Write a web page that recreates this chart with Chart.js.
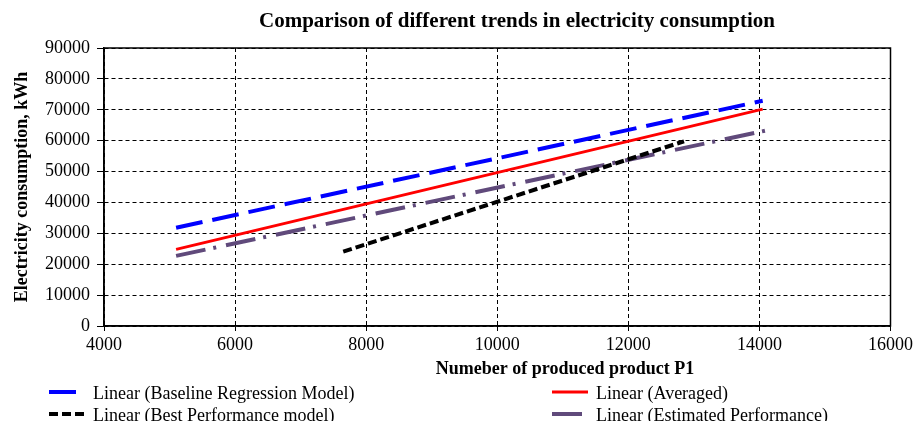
<!DOCTYPE html>
<html>
<head>
<meta charset="utf-8">
<script src="https://cdn.jsdelivr.net/npm/chart.js@4/dist/chart.umd.min.js"></script>
<style>
  html, body { margin: 0; padding: 0; background: #fff; overflow: hidden; }
  #wrap { width: 916px; height: 421px; }
</style>
</head>
<body>
<div id="wrap"><canvas id="chart" width="916" height="421"></canvas></div>
<script>
// series names (legend order: left column, right column, row by row)
const seriesNames = [
  'Linear (Baseline Regression Model)',
  'Linear (Averaged)',
  'Linear (Best Performance model)',
  'Linear (Estimated Performance)'
];

// trend line end points
const xBaseline = [5100, 14050];
const yBaseline = [31800, 72900];
const xAveraged = [5100, 14050];
const yAveraged = [24800, 70200];
const xBest = [7650, 12850];
const yBest = [24100, 59800];
const xEstimated = [5100, 14150];
const yEstimated = [22700, 63500];

const xTicks = [4000, 6000, 8000, 10000, 12000, 14000, 16000];
const yTicks = [0, 10000, 20000, 30000, 40000, 50000, 60000, 70000, 80000, 90000];

const chartTitle = 'Comparison of different trends in electricity consumption';
const xTitle = 'Numeber of produced product P1';
const yTitle = 'Electricity consumption, kWh';

const FONT = '"Liberation Serif", "Times New Roman", serif';

const toPoints = (xs, ys) => xs.map((x, i) => ({ x: x, y: ys[i] }));

// title, x title, plot frame and the two-column legend
const extras = {
  id: 'extras',
  afterDraw(chart) {
    const ctx = chart.ctx;
    const area = chart.chartArea;
    ctx.save();

    // frame round the plot
    ctx.strokeStyle = '#000';
    ctx.lineWidth = 1.5;
    ctx.setLineDash([]);
    ctx.strokeRect(area.left, area.top, area.right - area.left, area.bottom - area.top);

    ctx.fillStyle = '#000';
    ctx.textAlign = 'center';
    ctx.textBaseline = 'alphabetic';
    ctx.font = 'bold 21px ' + FONT;
    ctx.fillText(chartTitle, 517, 27);

    ctx.font = 'bold 18px ' + FONT;
    ctx.fillText(xTitle, 565, 374);

    // legend
    const colX = [49, 552];
    const rowY = [392, 414];
    ctx.font = '18px ' + FONT;
    ctx.textAlign = 'left';
    ctx.textBaseline = 'middle';
    chart.data.datasets.forEach((ds, i) => {
      const x = colX[i % 2];
      const y = rowY[Math.floor(i / 2)];
      ctx.save();
      ctx.strokeStyle = ds.borderColor;
      ctx.lineWidth = ds.borderWidth;
      ctx.setLineDash(ds.borderDash || []);
      ctx.beginPath();
      ctx.moveTo(x, y);
      ctx.lineTo(x + 36, y);
      ctx.stroke();
      ctx.restore();
      ctx.fillText(ds.label, x + 44, y + 2);
    });
    ctx.restore();
  }
};

const ctx = document.getElementById('chart').getContext('2d');

new Chart(ctx, {
  type: 'scatter',
  data: {
    datasets: [
      {
        label: seriesNames[0],
        data: toPoints(xBaseline, yBaseline),
        borderColor: '#0000FF',
        borderWidth: 4,
        borderDash: [27, 10]
      },
      {
        label: seriesNames[1],
        data: toPoints(xAveraged, yAveraged),
        borderColor: '#FF0000',
        borderWidth: 3,
        borderDash: []
      },
      {
        label: seriesNames[2],
        data: toPoints(xBest, yBest),
        borderColor: '#000000',
        borderWidth: 4,
        borderDash: [9, 4]
      },
      {
        label: seriesNames[3],
        data: toPoints(xEstimated, yEstimated),
        borderColor: '#604A7B',
        borderWidth: 4,
        borderDash: [30, 8, 3, 10]
      }
    ]
  },
  options: {
    responsive: false,
    animation: false,
    showLine: true,
    elements: {
      point: { radius: 0, hoverRadius: 0 },
      line: { tension: 0, fill: false }
    },
    layout: {
      padding: { top: 48, right: 24, left: 0, bottom: 0 }
    },
    plugins: {
      legend: { display: false },
      title: { display: false },
      tooltip: { enabled: false }
    },
    scales: {
      x: {
        type: 'linear',
        min: xTicks[0],
        max: xTicks[xTicks.length - 1],
        afterBuildTicks: scale => { scale.ticks = xTicks.map(v => ({ value: v })); },
        afterFit: scale => { scale.height = 95; },
        grid: {
          color: '#000',
          lineWidth: 1,
          tickLength: 5,
          tickColor: '#000'
        },
        border: { display: true, color: '#000', width: 1.5, dash: [4, 3] },
        ticks: {
          color: '#000',
          padding: 3,
          maxRotation: 0,
          font: { family: FONT, size: 18 },
          callback: v => String(v)
        }
      },
      y: {
        type: 'linear',
        min: yTicks[0],
        max: yTicks[yTicks.length - 1],
        afterBuildTicks: scale => { scale.ticks = yTicks.map(v => ({ value: v })); },
        afterFit: scale => { scale.width = 104; },
        grid: {
          color: '#000',
          lineWidth: 1,
          tickLength: 7,
          tickColor: '#000'
        },
        border: { display: true, color: '#000', width: 1.5, dash: [4, 3] },
        ticks: {
          color: '#000',
          padding: 7,
          font: { family: FONT, size: 18 },
          callback: v => String(v)
        },
        title: {
          display: true,
          text: yTitle,
          color: '#000',
          padding: { top: 12, bottom: 0 },
          font: { family: FONT, size: 18, weight: 'bold' }
        }
      }
    }
  },
  plugins: [extras]
});
</script>
</body>
</html>
